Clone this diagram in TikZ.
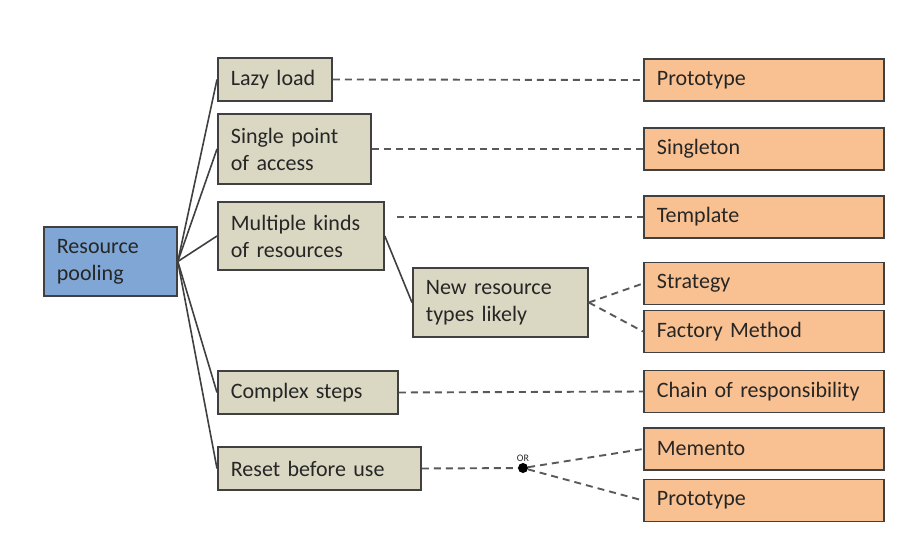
\documentclass[tikz,border=0pt]{standalone}
\usepackage{fontspec}
\setmainfont{Carlito}
\usetikzlibrary{positioning}

\definecolor{rootblue}{RGB}{127,166,212}
\definecolor{condtan}{RGB}{218,215,194}
\definecolor{patorange}{RGB}{249,193,145}

\begin{document}
\begin{tikzpicture}[x=1pt,y=-1pt,
  every node/.style={font=\fontsize{22}{27}\selectfont, text=black!85},
  box/.style={draw=black!75, line width=1.8pt, anchor=west, align=left, inner xsep=13pt, inner ysep=0pt},
  root/.style={box, fill=rootblue},
  cond/.style={box, fill=condtan},
  pat/.style={box, fill=patorange, text width=214pt, minimum height=42pt},
  tie/.style={draw=black!75, line width=1.6pt},
  link/.style={draw=black!65, line width=1.9pt, dash pattern=on 7pt off 5pt}]
  \useasboundingbox (0,0) rectangle (900,535);

  % forces
  \node[root, text width=107pt, minimum height=69pt] (pool) at (43,261.5) {Resource\\pooling};
  \node[cond, text width=88pt, minimum height=43pt] (lazy) at (217,79.5) {Lazy load};
  \node[cond, text width=127pt, minimum height=70pt] (single) at (217,149) {Single point\\of access};
  \node[cond, text width=140pt, minimum height=68pt] (multi) at (217,236) {Multiple kinds\\of resources};
  \node[cond, text width=149pt, minimum height=69pt] (newtypes) at (412,302.5) {New resource\\types likely};
  \node[cond, text width=154pt, minimum height=43pt] (complex) at (217,392.5) {Complex steps};
  \node[cond, text width=177pt, minimum height=43pt] (reset) at (217,468.5) {Reset before use};

  % patterns
  \node[pat] (proto) at (643,80) {Prototype};
  \node[pat] (single pat) at (643,149) {Singleton};
  \node[pat] (templ) at (643,217) {Template};
  \node[pat] (strat) at (643,283.5) {Strategy};
  \node[pat] (factory) at (643,331.5) {Factory Method};
  \node[pat] (chain) at (643,391.5) {Chain of responsibility};
  \node[pat] (memento) at (643,449) {Memento};
  \node[pat] (proto2) at (643,500.5) {Prototype};

  \node[circle, fill=black, inner sep=0pt, minimum size=10pt,
    label={[font=\fontsize{10}{10}\selectfont, inner sep=1pt]above:OR}] (or) at (523,468) {};
  \coordinate (multiend) at (397,217);

  \foreach \n in {lazy,single,multi,complex,reset}
    \draw[tie] (pool.east) -- (\n.west);
  \draw[tie] (multi.east) -- (newtypes.west);

  \draw[link] (lazy.east) -- (proto.west);
  \draw[link] (single.east) -- (single pat.west);
  \draw[link] (multiend) -- (templ.west);
  \draw[link] (newtypes.east) -- (strat.west);
  \draw[link] (newtypes.east) -- (factory.west);
  \draw[link] (complex.east) -- (chain.west);
  \draw[link] (reset.east) -- (or);
  \draw[link] (or) -- (memento.west);
  \draw[link] (or) -- (proto2.west);
\end{tikzpicture}
\end{document}
